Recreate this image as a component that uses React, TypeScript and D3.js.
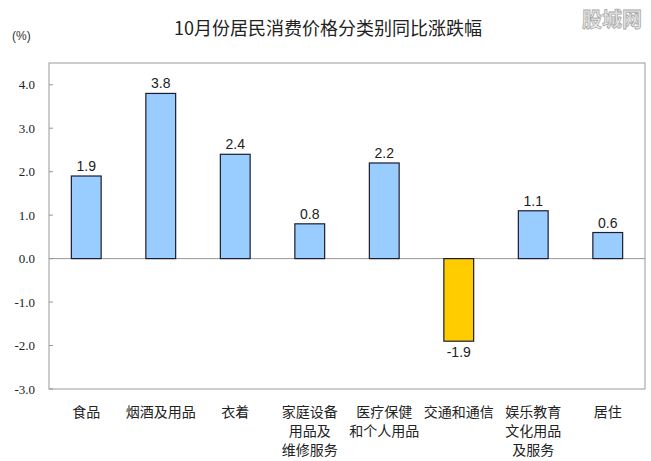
import React from 'react';
import * as d3 from 'd3';

const categories = [
  ['食品'],
  ['烟酒及用品'],
  ['衣着'],
  ['家庭设备', '用品及', '维修服务'],
  ['医疗保健', '和个人用品'],
  ['交通和通信'],
  ['娱乐教育', '文化用品', '及服务'],
  ['居住'],
];
const values = [1.9, 3.8, 2.4, 0.8, 2.2, -1.9, 1.1, 0.6];
const yTicks = [-3, -2, -1, 0, 1, 2, 3, 4];

const W = 651;
const H = 461;
const left = 49;
const right = 645;
const top = 63;
const bottom = 389;

const App = () => {
  const x = d3.scaleBand<number>()
    .domain(d3.range(values.length))
    .range([left, right])
    .paddingInner(0.6)
    .paddingOuter(0.3);

  const y = d3.scaleLinear().domain([-3, 4.5]).range([bottom, top]);

  return (
    <svg width={W} height={H} style={{ position: 'absolute', left: 0, top: 0 }}>
      <rect x={0} y={0} width={W} height={H} fill="#fff" />
      <text x={328} y={35} textAnchor="middle" fontSize={18}
        fontFamily="'Noto Sans CJK SC', sans-serif" fill="#222">10月份居民消费价格分类别同比涨跌幅</text>
      <text x={12} y={40} fontSize={12} fontFamily="'Liberation Sans', sans-serif" fill="#333">(%)</text>
      <text x={612} y={27} textAnchor="middle" fontSize={20} fontWeight="bold"
        fontFamily="'Noto Sans CJK SC', sans-serif" fill="#e8e8e8" stroke="#aaa" strokeWidth={0.8}>股城网</text>

      <rect x={left} y={top} width={right - left} height={bottom - top} fill="none" stroke="#999" strokeWidth={1} />
      <line x1={left} x2={right} y1={y(0)} y2={y(0)} stroke="#999" />

      {yTicks.map(t => (
        <g key={t}>
          <line x1={left} x2={left + 4} y1={y(t)} y2={y(t)} stroke="#999" />
          <text x={35} y={y(t)} dy="0.35em" textAnchor="end" fontSize={13}
            fontFamily="'Liberation Serif', serif" fill="#222">{t.toFixed(1)}</text>
        </g>
      ))}

      {values.map((v, i) => {
        const bx = x(i)!;
        const bw = x.bandwidth();
        const y0 = y(Math.max(0, v));
        const y1 = y(Math.min(0, v));
        return (
          <g key={i}>
            <rect x={bx} y={y0} width={bw} height={y1 - y0}
              fill={v < 0 ? '#FFCC00' : '#99CCFF'} stroke="#1c1c2e" strokeWidth={1.2} />
            <text x={bx + bw / 2} y={v < 0 ? y1 + 16 : y0 - 5} textAnchor="middle" fontSize={14}
              fontFamily="'Liberation Sans', sans-serif" fill="#222">{v.toFixed(1)}</text>
          </g>
        );
      })}

      {categories.map((lines, i) => (
        <text key={i} x={x(i)! + x.bandwidth() / 2} textAnchor="middle" fontSize={14}
          fontFamily="'Noto Sans CJK SC', sans-serif" fill="#222">
          {lines.map((l, j) => (
            <tspan key={j} x={x(i)! + x.bandwidth() / 2} y={417 + j * 19}>{l}</tspan>
          ))}
        </text>
      ))}
    </svg>
  );
};

export default App;
